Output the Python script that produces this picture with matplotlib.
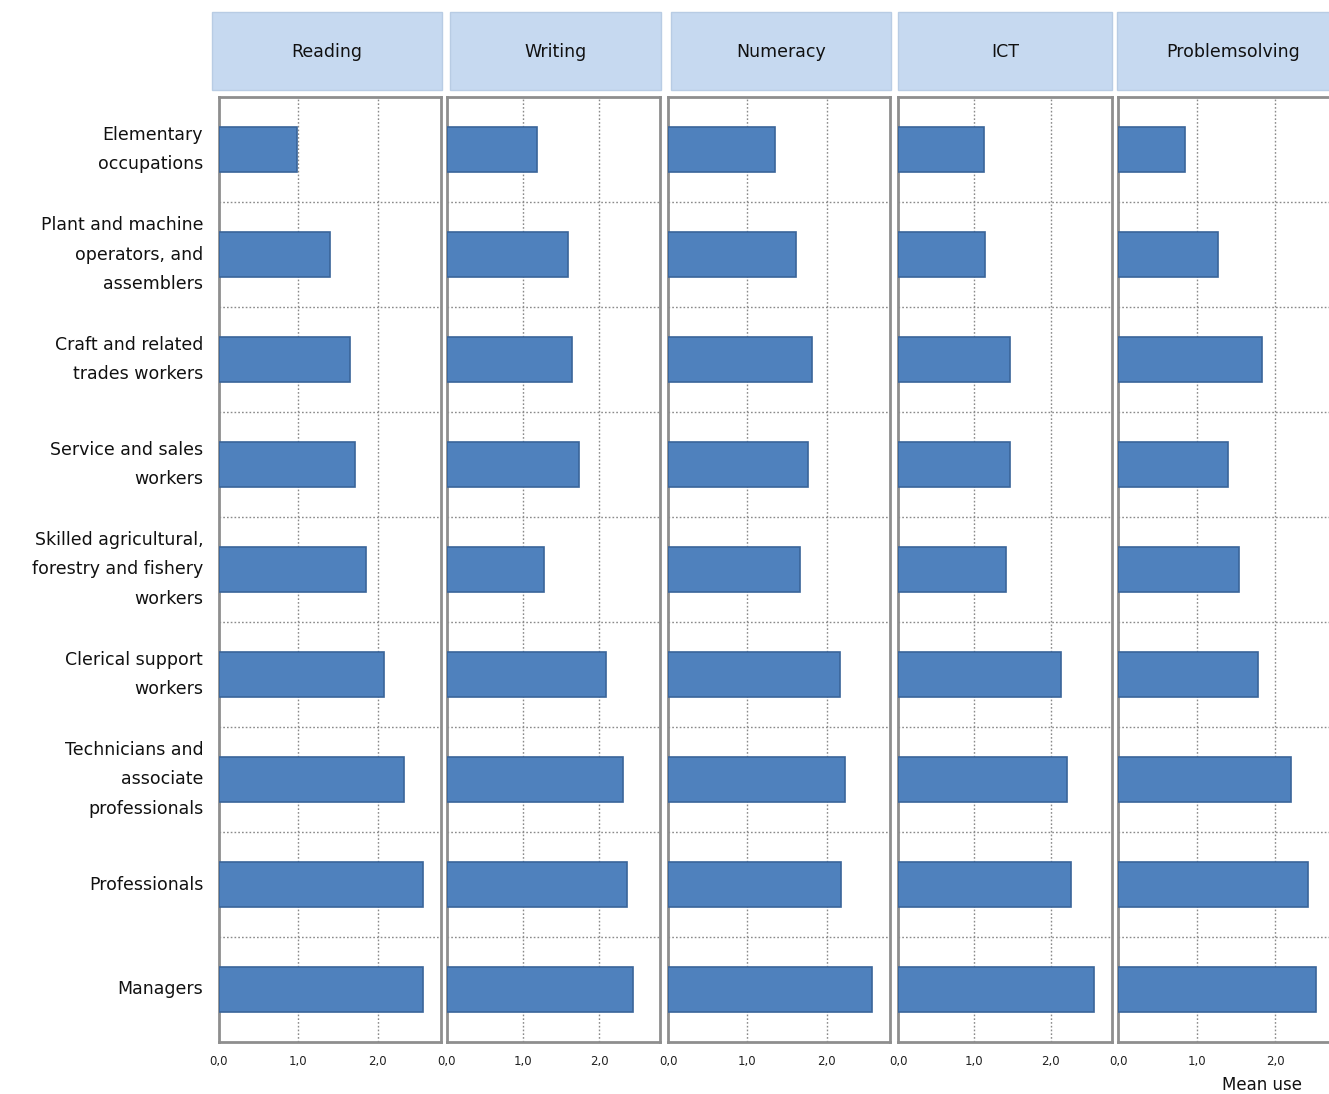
import matplotlib
matplotlib.use("Agg")
import matplotlib.pyplot as plt
from matplotlib.patches import Rectangle

occupations = [
    "Elementary\noccupations",
    "Plant and machine\noperators, and\nassemblers",
    "Craft and related\ntrades workers",
    "Service and sales\nworkers",
    "Skilled agricultural,\nforestry and fishery\nworkers",
    "Clerical support\nworkers",
    "Technicians and\nassociate\nprofessionals",
    "Professionals",
    "Managers",
]
skills = ["Reading", "Writing", "Numeracy", "ICT", "Problemsolving"]

reading = [0.99, 1.40, 1.65, 1.72, 1.86, 2.08, 2.33, 2.57, 2.57]
writing = [1.18, 1.59, 1.64, 1.74, 1.28, 2.09, 2.32, 2.37, 2.45]
numeracy = [1.35, 1.62, 1.82, 1.77, 1.67, 2.17, 2.23, 2.18, 2.57]
ict = [1.12, 1.14, 1.47, 1.47, 1.41, 2.13, 2.21, 2.26, 2.57]
problem_solving = [0.85, 1.27, 1.83, 1.40, 1.54, 1.78, 2.20, 2.42, 2.52]
series = [reading, writing, numeracy, ict, problem_solving]

tick_values = [0.0, 1.0, 2.0]
tick_labels = ["0,0", "1,0", "2,0"]

W, H = 1329, 1094
fig = plt.figure(figsize=(W / 100, H / 100), dpi=100)

# panel frames in pixels: (left, right)
panel_x = [(219, 441), (447, 660), (668, 890), (898, 1112), (1118, 1338)]
header_x = [(212, 442), (450, 661), (671, 891), (898, 1112), (1117, 1350)]
top_px, bottom_px = 97, 1042
head_top, head_bot = 12, 90

bar_color = "#4F81BD"
edge_color = "#3A659A"
frame_color = "#8E8E8E"
grid_color = "#8A8A8A"
font = "DejaVu Sans"
n = len(occupations)
ypos = list(range(n))

for i, (skill, vals) in enumerate(zip(skills, series)):
    l, r = panel_x[i]
    ax = fig.add_axes([l / W, 1 - bottom_px / H, (r - l) / W, (bottom_px - top_px) / H])
    ax.barh(ypos, vals, height=0.42, color=bar_color, edgecolor=edge_color,
            linewidth=1.2, zorder=3)
    ax.set_xlim(0, 2.8)
    ax.set_ylim(n - 0.5, -0.5)
    # dotted separators between occupation rows
    for k in range(1, n):
        ax.axhline(k - 0.5, color=grid_color, linestyle=(0, (1.2, 1.5)),
                   linewidth=1.0, zorder=1)
    for t in tick_values[1:]:
        ax.axvline(t, color=grid_color, linestyle=(0, (1.2, 1.5)),
                   linewidth=1.0, zorder=1)
    ax.set_xticks(tick_values)
    ax.set_xticklabels(tick_labels, fontsize=8.5, color="#222222", family=font)
    ax.tick_params(axis="x", length=0, pad=9)
    ax.set_yticks([])
    for s in ax.spines.values():
        s.set_color(frame_color)
        s.set_linewidth(2.0)
    if i == 0:
        for y, lab in zip(ypos, occupations):
            ax.text(-0.2, y, lab, ha="right", va="center", fontsize=12.5,
                    color="#111111", linespacing=1.8,
                    transform=ax.transData, family=font)

    hl, hr = header_x[i]
    fig.patches.append(Rectangle((hl / W, 1 - head_bot / H), (hr - hl) / W,
                                 (head_bot - head_top) / H,
                                 transform=fig.transFigure,
                                 facecolor="#C6D9F0", edgecolor="#B8CCE4",
                                 linewidth=1.0))
    fig.text(((hl + hr) / 2) / W, 1 - ((head_top + head_bot) / 2 + 1) / H,
             skill, ha="center", va="center", fontsize=12.5, color="#111111",
             family=font)

fig.text(1262 / W, 1 - 1085 / H, "Mean use", ha="center", va="center",
         fontsize=12, color="#111111", family=font)

fig.savefig("out.png", dpi=100, facecolor="white")
